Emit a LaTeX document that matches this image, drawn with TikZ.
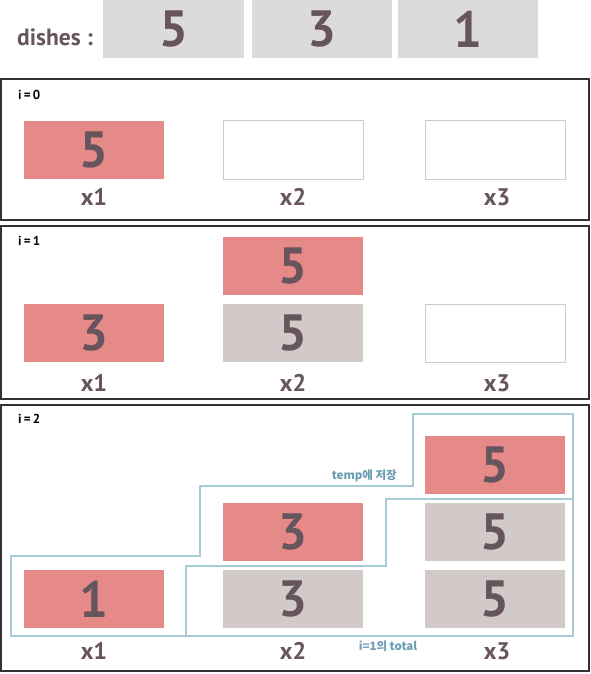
\documentclass[tikz,border=0pt]{standalone}
\usepackage{fontspec}
\setmainfont{PT Sans}
\newfontfamily\kr{Noto Sans CJK KR}
\definecolor{pinkbox}{HTML}{E68A89}
\definecolor{graybox}{HTML}{D2C9C9}
\definecolor{headbox}{HTML}{DCDADB}
\definecolor{txt}{HTML}{66555C}
\definecolor{frame}{HTML}{333333}
\definecolor{blueline}{HTML}{A9CBD6}
\definecolor{bluetxt}{HTML}{6B9DB3}
\tikzset{
  cell/.style={minimum width=140pt,minimum height=58pt,inner sep=0pt,font=\fontsize{51}{51}\selectfont\bfseries,text=txt},
  pinkcell/.style={cell,fill=pinkbox},
  graycell/.style={cell,fill=graybox},
  emptycell/.style={cell,fill=white,draw=black!20,line width=1pt},
  headcell/.style={cell,fill=headbox},
  lab/.style={font=\fontsize{24}{24}\selectfont\bfseries,text=txt,inner sep=0pt},
  step lab/.style={font=\fontsize{13}{13}\selectfont\bfseries,text=black,inner sep=0pt,anchor=west},
  panel/.style={draw=frame,line width=2pt},
  bluepath/.style={draw=blueline,line width=1.3pt},
  bluetext/.style={font=\kr\fontsize{11.5}{11.5}\selectfont\bfseries,text=bluetxt,inner sep=0pt}
}
\begin{document}
\begin{tikzpicture}[x=1pt,y=-1pt]
\useasboundingbox (0,0) rectangle (590,674);
% header
\node[lab,font=\fontsize{23.5}{23.5}\selectfont\bfseries,anchor=west] (dishes) at (17,37) {dishes :};
\node[headcell,minimum width=141pt] (h1) at (173.5,29) {5};
\node[headcell,minimum width=140pt] (h2) at (322,29) {3};
\node[headcell,minimum width=140pt] (h3) at (468,29) {1};
% panel 0
\draw[panel] (1,79) rectangle (589,220);
\node[step lab] (s0) at (18,95) {i\,=\,0};
\node[pinkcell] (a1) at (94,150) {5};
\node[emptycell] (a2) at (293,150) {};
\node[emptycell] (a3) at (495,150) {};
\node[lab] (ax1) at (94,197) {x1};
\node[lab] (ax2) at (293,197) {x2};
\node[lab] (ax3) at (497,197) {x3};
% panel 1
\draw[panel] (1,226) rectangle (589,399);
\node[step lab] (s1) at (18,241) {i\,=\,1};
\node[pinkcell] (b2t) at (293,266) {5};
\node[pinkcell] (b1) at (94,333) {3};
\node[graycell] (b2) at (293,333) {5};
\node[emptycell] (b3) at (495,333) {};
\node[lab] (bx1) at (94,383) {x1};
\node[lab] (bx2) at (293,383) {x2};
\node[lab] (bx3) at (497,383) {x3};
% panel 2
\draw[panel] (1,405) rectangle (589,671);
\node[step lab] (s2) at (18,419) {i\,=\,2};
\node[pinkcell] (c3t) at (495,465) {5};
\node[pinkcell] (c2t) at (293,532) {3};
\node[graycell] (c3m) at (495,532) {5};
\node[pinkcell] (c1) at (94,599) {1};
\node[graycell] (c2) at (293,599) {3};
\node[graycell] (c3) at (495,599) {5};
\node[lab] (cx1) at (94,651) {x1};
\node[lab] (cx2) at (293,651) {x2};
\node[lab] (cx3) at (497,651) {x3};
% blue outlines
\draw[bluepath] (11,556) -- (200,556) -- (200,486) -- (413,486) -- (413,414) -- (573,414) -- (573,636) -- (11,636) -- cycle;
\draw[bluepath] (386,499) -- (573,499) -- (573,636) -- (186,636) -- (186,566) -- (386,566) -- cycle;
\node[bluetext,anchor=east] (temp) at (397,476) {temp에 저장};
\node[bluetext] (tot) at (388,646) {i=1의 total};
\end{tikzpicture}
\end{document}
